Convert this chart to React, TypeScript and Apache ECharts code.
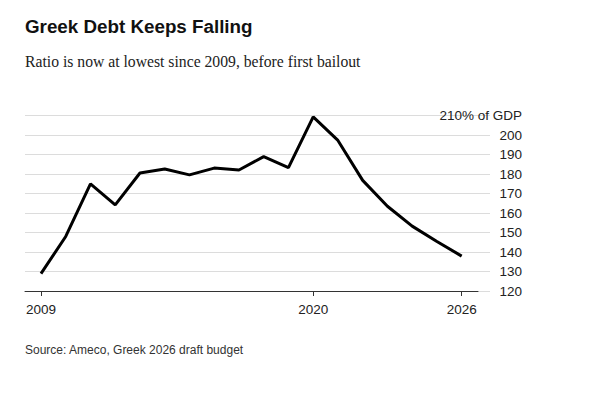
import React, { useEffect, useRef } from "react";
import * as echarts from "echarts";

const years = [2009, 2010, 2011, 2012, 2013, 2014, 2015, 2016, 2017, 2018, 2019, 2020, 2021, 2022, 2023, 2024, 2025, 2026];
const debtRatio = [128.9, 148.0, 175.0, 164.2, 180.6, 182.6, 179.6, 183.1, 182.1, 189.0, 183.3, 209.4, 197.3, 176.8, 163.5, 153.3, 145.4, 137.9];
const xTickYears = [2009, 2020, 2026];
const yMin = 120;
const yMax = 210;
const yStep = 10;

const title = "Greek Debt Keeps Falling";
const subtitle = "Ratio is now at lowest since 2009, before first bailout";
const source = "Source: Ameco, Greek 2026 draft budget";
const unitLabel = "210% of GDP";

export default function App() {
  const ref = useRef<HTMLDivElement>(null);
  useEffect(() => {
    if (!ref.current) return;
    const chart = echarts.init(ref.current, undefined, { renderer: "svg" });
    const sans = "Liberation Sans, Arial, Helvetica, sans-serif";
    const data = years.map((y, i) => [y, debtRatio[i]]);
    chart.setOption({
      animation: false,
      backgroundColor: "#ffffff",
      grid: [
        { left: 25, right: 112, top: 115.7, bottom: 103 },
        { left: 25, right: 124, top: 115.7, bottom: 103 },
      ],
      xAxis: [
        { gridIndex: 0, type: "value", min: 2008.354, max: 2027.14, show: false },
        {
          gridIndex: 1,
          type: "value",
          min: 2008.354,
          max: 2026.66,
          axisLine: { show: true, lineStyle: { color: "#333", width: 1 } },
          axisTick: { show: true, customValues: xTickYears, length: 5, lineStyle: { color: "#333" } },
          axisLabel: {
            customValues: xTickYears,
            formatter: (v: number) => String(v),
            color: "#222",
            fontFamily: sans,
            fontSize: 13.5,
            margin: 11,
          },
          splitLine: { show: false },
        },
      ],
      yAxis: [
        {
          gridIndex: 0,
          type: "value",
          position: "right",
          min: yMin,
          max: yMax,
          interval: yStep,
          axisLine: { show: false },
          axisTick: { show: false },
          splitLine: { show: true, lineStyle: { color: "#dcdcdc", width: 1.2 } },
          axisLabel: {
            color: "#222",
            fontFamily: sans,
            fontSize: 13.5,
            align: "right",
            margin: 32,
            formatter: (v: number) => (v === yMax ? unitLabel : String(v)),
          },
        },
        { gridIndex: 1, type: "value", min: yMin, max: yMax, show: false },
      ],
      series: [
        {
          type: "line",
          xAxisIndex: 1,
          yAxisIndex: 1,
          data,
          showSymbol: false,
          lineStyle: { color: "#000", width: 3 },
        },
      ],
      graphic: [
        {
          type: "text",
          left: 25,
          top: 17,
          style: { text: title, fill: "#111", font: `bold 18.8px ${sans}` },
        },
        {
          type: "text",
          left: 25,
          top: 53,
          style: { text: subtitle, fill: "#222", font: `15.7px "Liberation Serif", "Times New Roman", serif` },
        },
        {
          type: "text",
          left: 25,
          top: 344,
          style: { text: source, fill: "#333", font: `12px ${sans}` },
        },
      ],
    });
    return () => chart.dispose();
  }, []);
  return <div ref={ref} style={{ position: "fixed", left: 0, top: 0, width: 602, height: 394 }} />;
}
